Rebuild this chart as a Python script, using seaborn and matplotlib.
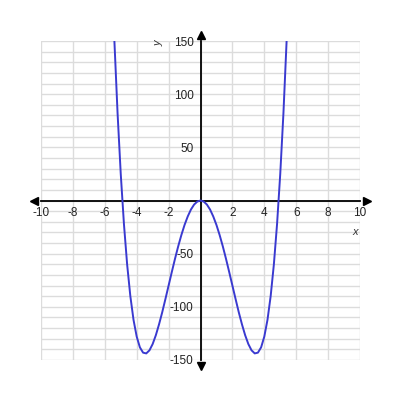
import numpy as np
import pandas as pd
import matplotlib
matplotlib.use("Agg")
import matplotlib.pyplot as plt
import seaborn as sns

# pontos (x, y)
x_vals = [-5.4, -5.2, -5.0, -4.8, -4.6, -4.4, -4.2, -4.0, -3.8, -3.6, -3.4, -3.2,
          -3.0, -2.8, -2.6, -2.4, -2.2, -2.0, -1.8, -1.6, -1.4, -1.2, -1.0, -0.8,
          -0.6, -0.4, -0.2, 0.0, 0.2, 0.4, 0.6, 0.8, 1.0, 1.2, 1.4, 1.6, 1.8, 2.0,
          2.2, 2.4, 2.6, 2.8, 3.0, 3.2, 3.4, 3.6, 3.8, 4.0, 4.2, 4.4, 4.6, 4.8,
          5.0, 5.2, 5.4]
y_vals = [150.5, 82.2, 25.0, -22.1, -60.1, -89.8, -112.2, -128.0, -138.1, -143.1,
          -143.8, -140.9, -135.0, -126.7, -116.5, -105.1, -92.7, -80.0, -67.3,
          -54.9, -43.2, -32.5, -23.0, -15.0, -8.5, -3.8, -1.0, 0.0, -1.0, -3.8,
          -8.5, -15.0, -23.0, -32.5, -43.2, -54.9, -67.3, -80.0, -92.7, -105.1,
          -116.5, -126.7, -135.0, -140.9, -143.8, -143.1, -138.1, -128.0, -112.2,
          -89.8, -60.1, -22.1, 25.0, 82.2, 150.5]

x_labels = [-10, -8, -6, -4, -2, 2, 4, 6, 8, 10]
y_labels = [-150, -100, -50, 50, 100, 150]

dados = pd.DataFrame({"x": x_vals, "y": y_vals})

sns.set_style("white")
plt.rcParams["font.family"] = ["Liberation Sans", "DejaVu Sans"]
fig = plt.figure(figsize=(4, 4), dpi=100)
ax = fig.add_axes([0.1025, 0.1, 0.7975, 0.7975])

# grade
for gx in np.arange(-10, 11, 2):
    ax.axvline(gx, color="#dcdcdc", lw=1, zorder=0)
for gy in np.arange(-150, 151, 10):
    ax.axhline(gy, color="#dcdcdc", lw=1, zorder=0)

sns.lineplot(data=dados, x="x", y="y", sort=False, color="#3a3ad0", lw=1.4, ax=ax, zorder=3)

ax.set_xlim(-10, 10)
ax.set_ylim(-150, 150)

# eixos no centro
for s in ["top", "right"]:
    ax.spines[s].set_visible(False)
ax.spines["left"].set_position("zero")
ax.spines["bottom"].set_position("zero")
ax.spines["left"].set_color("black")
ax.spines["bottom"].set_color("black")
ax.spines["left"].set_linewidth(1.3)
ax.spines["bottom"].set_linewidth(1.3)

ax.set_xticks(np.arange(-10, 11, 2))
ax.set_xticklabels([str(v) if v in x_labels else "" for v in np.arange(-10, 11, 2)])
ax.set_yticks(np.arange(-150, 151, 10))
ax.set_yticklabels([str(v) if v in y_labels else "" for v in np.arange(-150, 151, 10)])
ax.tick_params(axis="both", direction="inout", length=8, width=1, color="black",
               labelsize=8.5, labelcolor="#222222", pad=1)
ax.set_xlabel("")
ax.set_ylabel("")

# setas
ax.plot([10.45], [0], marker=">", color="black", ms=6, clip_on=False, zorder=5)
ax.plot([-10.45], [0], marker="<", color="black", ms=6, clip_on=False, zorder=5)
ax.plot([0], [156], marker="^", color="black", ms=6, clip_on=False, zorder=5)
ax.plot([0], [-156], marker="v", color="black", ms=6, clip_on=False, zorder=5)

ax.text(9.7, -30, "x", fontsize=8, style="italic", color="#333333", ha="center", va="center")
ax.text(-2.6, 148, "y", fontsize=8, style="italic", color="#333333", ha="center", va="center", rotation=90)

fig.savefig("out.png", dpi=100)
